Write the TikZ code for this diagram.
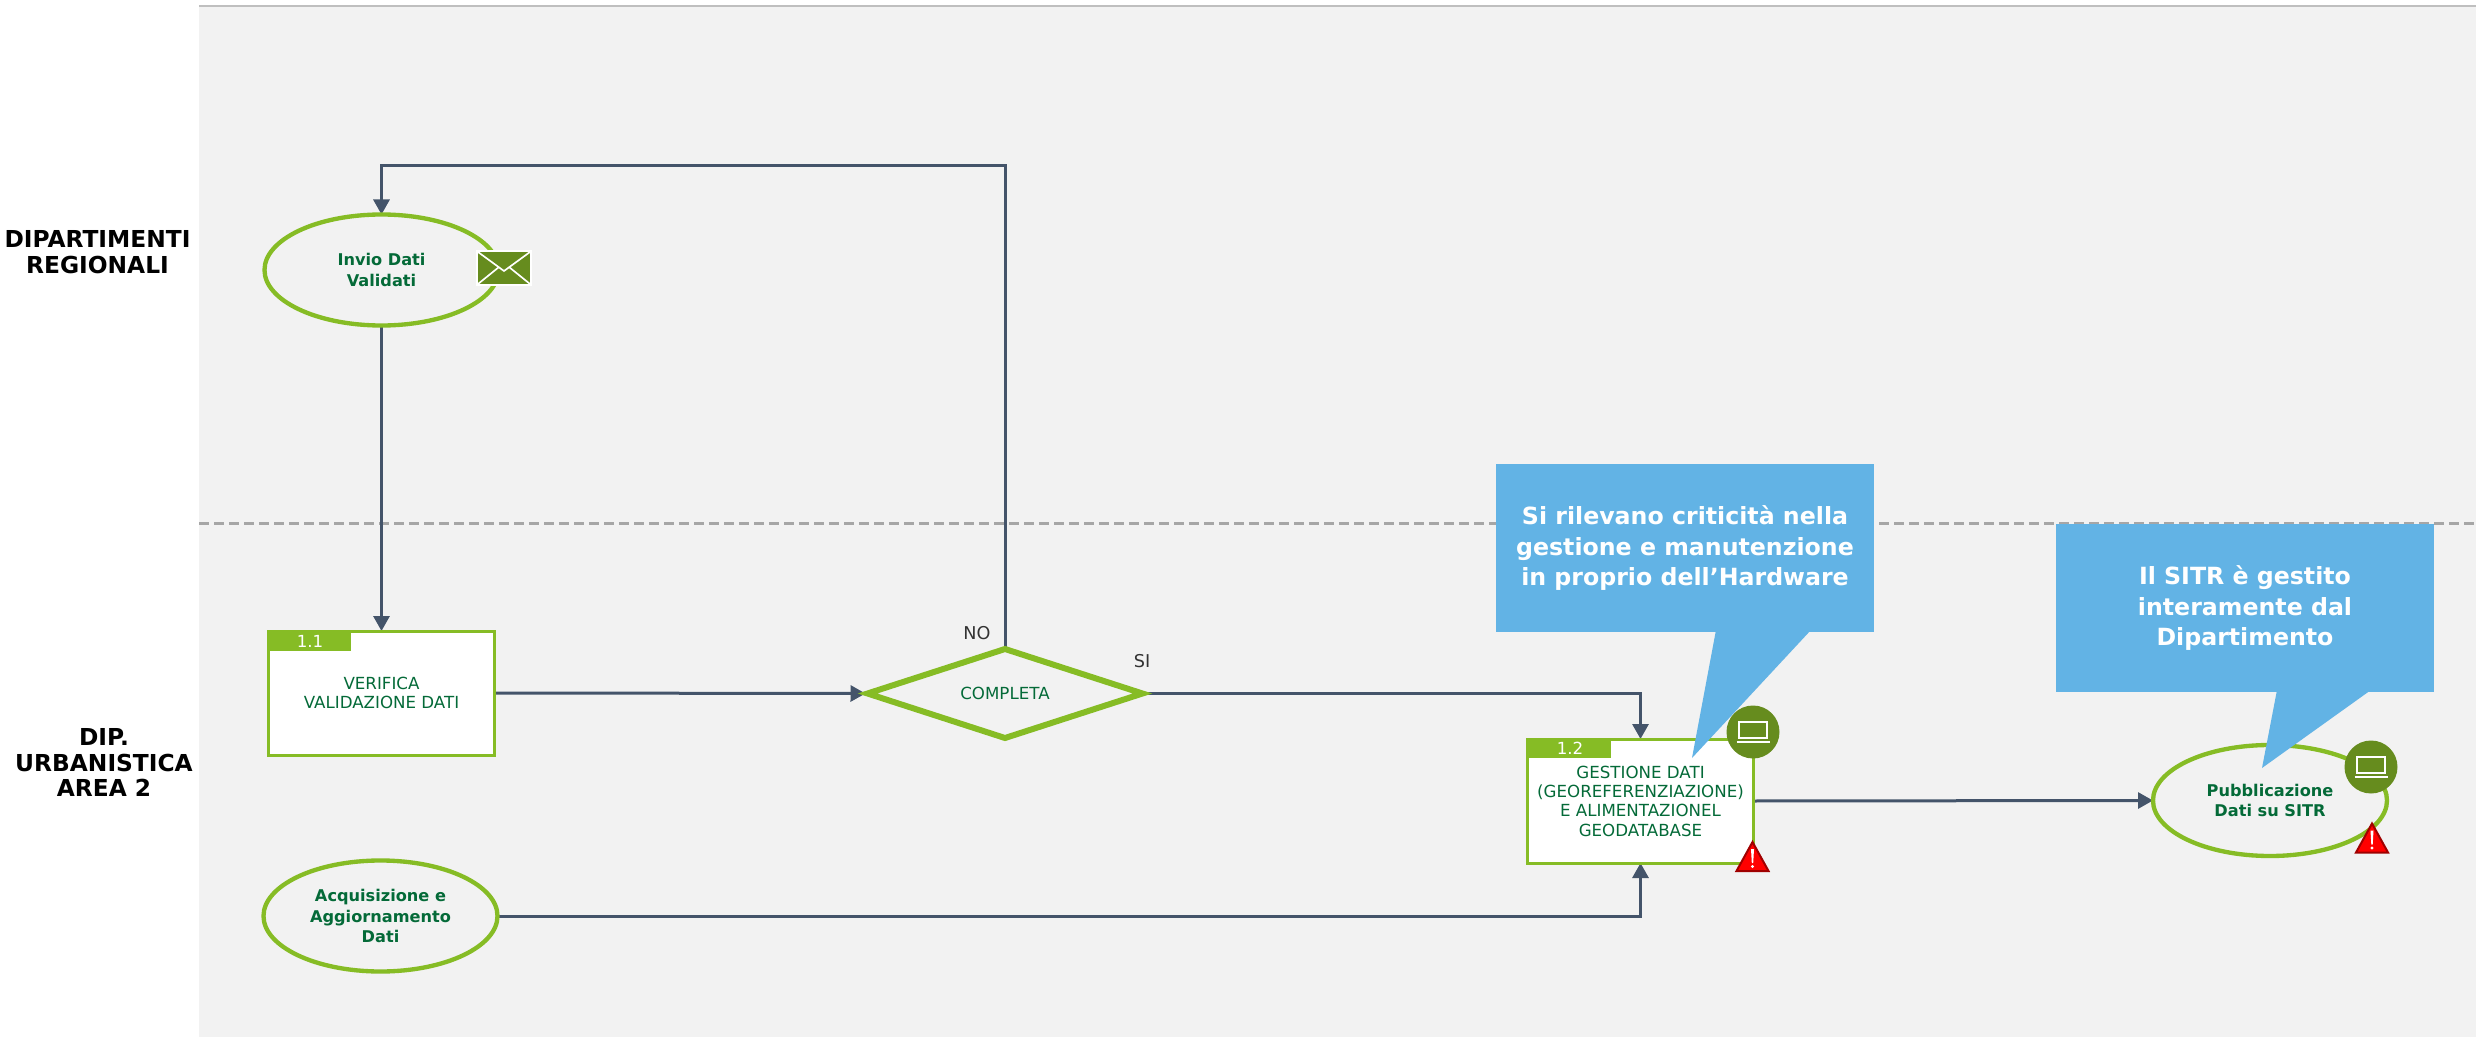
\documentclass[tikz,border=0pt]{standalone}
\usepackage{fontspec}
\setmainfont{DejaVu Sans}
\usetikzlibrary{arrows.meta,shapes.geometric}
\pgfdeclarelayer{under}
\pgfsetlayers{under,main}
\definecolor{panel}{HTML}{F2F2F2}
\definecolor{leaf}{HTML}{86BC25}
\definecolor{ink}{HTML}{046A38}
\definecolor{olive}{HTML}{668C1E}
\definecolor{wire}{HTML}{44546A}
\definecolor{sky}{HTML}{62B3E5}
\definecolor{rule}{HTML}{A6A6A6}
\definecolor{topline}{HTML}{BFBFBF}
\definecolor{warnedge}{HTML}{A00000}
\tikzset{
  every node/.style={inner sep=0pt,outer sep=0pt,align=center},
  wirestyle/.style={draw=wire,line width=0.9pt,-{Triangle[length=4.5pt,width=4.8pt]}},
  oval/.style={ellipse,draw=leaf,line width=1.3pt,minimum width=70.2pt,minimum height=33.3pt,text=ink,font=\fontsize{4.85}{6.15}\selectfont\bfseries},
  task/.style={rectangle,draw=leaf,line width=0.9pt,fill=white,minimum width=68pt,minimum height=37.2pt,text=ink,font=\fontsize{5}{5.8}\selectfont},
  tabnum/.style={text=white,font=\fontsize{5}{6}\selectfont},
  gate/.style={diamond,draw=leaf,line width=1.8pt,minimum width=82.5pt,minimum height=26.7pt,aspect=3.09,text=ink,font=\fontsize{5}{6}\selectfont},
  lane/.style={text=black,font=\fontsize{7}{7.65}\selectfont\bfseries},
  flag/.style={text={rgb,255:red,51;green,51;blue,51},font=\fontsize{5.3}{6}\selectfont},
  bubble/.style={rectangle,fill=sky,minimum width=113.4pt,minimum height=50.4pt,text=white,font=\fontsize{7.1}{9.15}\selectfont\bfseries},
  badge/.style={circle,fill=olive,minimum size=15.9pt},
  laptop/.pic={
    \draw[white,line width=0.5pt] (-14,-10) rectangle (14,6);
    \draw[white,line width=0.5pt] (-16.5,10) -- (16.5,10);
  },
  warn/.pic={
    \fill[draw=warnedge,line width=0.6pt,fill=red,line join=miter] (0,3) -- (16,32) -- (-16,32) -- cycle;
    \fill[white] (-1.5,10) -- (1.5,10) -- (0.7,24) -- (-0.7,24) -- cycle;
    \fill[white] (0,27.5) circle (1.7);
  },
  mail/.pic={
    \fill[white] (-28,-18) rectangle (28,18);
    \fill[olive] (-26,-16) rectangle (26,16);
    \draw[white,line width=0.5pt] (-26,-16) -- (0,3) -- (26,-16);
    \draw[white,line width=0.5pt] (-26,16) -- (-5,-1);
    \draw[white,line width=0.5pt] (26,16) -- (5,-1);
  }
}
\begin{document}
\begin{tikzpicture}[x=0.3pt,y=-0.3pt]
\useasboundingbox (0,0) rectangle (2481,1037);
% nodes
\node[lane] (lane1) at (97.5,252) {DIPARTIMENTI\\REGIONALI};
\node[lane] (lane2) at (104,762.5) {DIP.\\URBANISTICA\\AREA 2};
\node[oval] (invio) at (381.5,270) {Invio Dati\\Validati};
\node[oval] (acq) at (380.5,916) {Acquisizione e\\Aggiornamento\\Dati};
\node[oval] (pub) at (2270,800.5) {Pubblicazione\\Dati su SITR};
\node[task] (t1) at (381.5,693) {VERIFICA\\VALIDAZIONE DATI};
\node[task] (t2) at (1640.5,801) {GESTIONE DATI\\(GEOREFERENZIAZIONE)\\E ALIMENTAZIONEL\\GEODATABASE};
\node[gate] (dec) at (1005,693.5) {COMPLETA};
\fill[leaf] (267,630) rectangle (351,651);
\fill[leaf] (1526,738) rectangle (1611,758);
\node[tabnum] (n1) at (310,641.5) {1.1};
\node[tabnum] (n2) at (1570,748.5) {1.2};
\node[flag] (no) at (977,633.5) {NO};
\node[flag] (si) at (1142,661.5) {SI};
\coordinate (loopa) at (1005,166);
\coordinate (loopb) at (381.5,166);
\coordinate (dropa) at (1640.5,693.5);
\coordinate (dropb) at (1640.5,916);
% background and connectors
\begin{pgfonlayer}{under}
\fill[panel] (199,6) rectangle (2476,1037);
\draw[topline,line width=0.75pt] (199,6) -- (2476,6);
\draw[rule,line width=0.9pt,dash pattern=on 3pt off 1.5pt] (199,523) -- (2476,523);
\draw[wirestyle] (invio.south) -- (t1.north);
\draw[wirestyle] (dec.north) -- (loopa) -- (loopb) -- (invio.north);
\draw[wirestyle,shorten >=0.6pt] (t1.east) -- (dec.west);
\draw[wirestyle] (dec.east) -- (dropa) -- (t2.north);
\draw[wirestyle] (acq.east) -- (dropb) -- (t2.south);
\draw[wirestyle] (t2.east) -- (pub.west);
\end{pgfonlayer}
% callouts
\fill[sky] (1716,630) -- (1692,758) -- (1811,630) -- cycle;
\fill[sky] (2277,690) -- (2262,768) -- (2371,690) -- cycle;
\node[bubble] (c1) at (1685,548) {Si rilevano criticità nella\\gestione e manutenzione\\in proprio dell’Hardware};
\node[bubble] (c2) at (2245,608) {Il SITR è gestito\\interamente dal\\Dipartimento};
% icons
\pic at (504,268) {mail};
\node[badge] (b1) at (1753,732) {};
\pic at (b1) {laptop};
\node[badge] (b2) at (2371,767) {};
\pic at (b2) {laptop};
\pic at (1752.5,839) {warn};
\pic at (2372,820.5) {warn};
\end{tikzpicture}
\end{document}
